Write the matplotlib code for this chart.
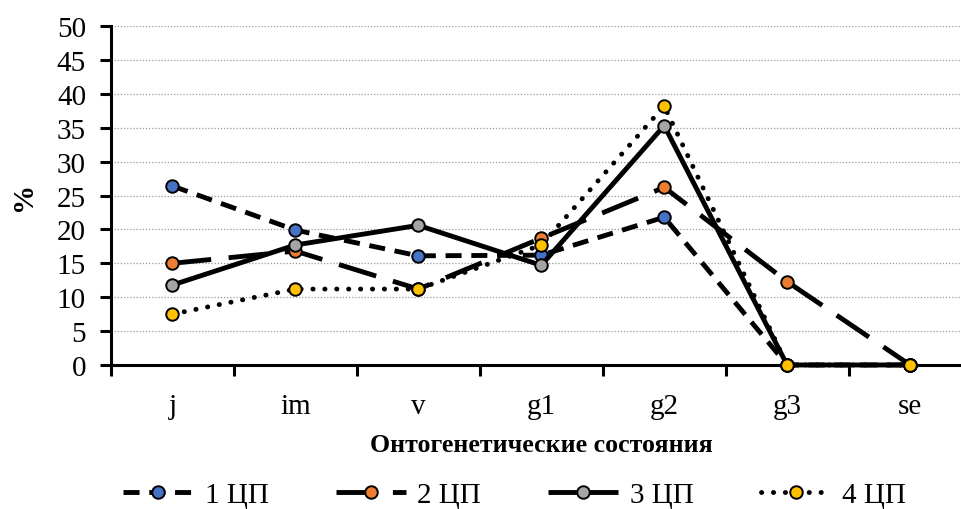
import matplotlib
matplotlib.use("Agg")
import matplotlib.pyplot as plt

plt.rcParams['font.family'] = ['Liberation Serif', 'DejaVu Serif']

categories = ["j", "im", "v", "g1", "g2", "g3", "se"]
s1 = [26.4, 19.9, 16.1, 16.2, 21.8, 0, 0]
s2 = [15.0, 16.8, 11.2, 18.7, 26.2, 12.3, 0]
s3 = [11.8, 17.7, 20.6, 14.7, 35.3, 0, 0]
s4 = [7.5, 11.2, 11.2, 17.7, 38.2, 0, 0]
labels = ["1 ЦП", "2 ЦП", "3 ЦП", "4 ЦП"]
yticks = list(range(0, 55, 5))

fig = plt.figure(figsize=(9.62, 5.10), dpi=100)
ax = fig.add_axes([0.1154, 0.2824, 0.8945, 0.6646])

x = list(range(len(categories)))
DOT = (0, (0.05, 2.4))
styles = [
    dict(series=s1, color="#4472C4", ls=(0, (3.3, 2.0))),
    dict(series=s2, color="#ED7D31", ls=(0, (8.0, 3.6))),
    dict(series=s3, color="#A5A5A5", ls="-"),
    dict(series=s4, color="#FFC000", ls=DOT),
]
for st, lab in zip(styles, labels):
    dash_cap = "round" if st["ls"] == DOT else "butt"
    ax.plot(x, st["series"], color="black", lw=3.5, linestyle=st["ls"],
            dash_capstyle=dash_cap, solid_capstyle="butt",
            marker="o", markersize=9, markerfacecolor=st["color"],
            markeredgecolor="black", markeredgewidth=1.4, label=lab,
            clip_on=False, zorder=3)

ax.set_xlim(-0.5, 6.5)
ax.set_ylim(0, 50)
ax.set_yticks(yticks)
ax.set_xticks(x)
ax.set_xticklabels(categories)
ax.set_xticks([i + 0.5 for i in range(-1, 7)], minor=True)
ax.tick_params(axis="x", which="major", length=0, labelsize=21, pad=20)
ax.tick_params(axis="x", which="minor", length=8, width=2.2, direction="out")
ax.tick_params(axis="y", length=8, width=2.2, direction="out", labelsize=21, pad=10)
ax.yaxis.grid(True, color="#9a9a9a", linestyle=(0, (1, 1.5)), linewidth=0.9)
ax.set_axisbelow(True)
for sp in ["top", "right"]:
    ax.spines[sp].set_visible(False)
ax.spines["left"].set_linewidth(2.2)
ax.spines["bottom"].set_linewidth(2.2)

ax.set_xlabel("Онтогенетические состояния", fontsize=18.6, fontweight="bold", labelpad=10)
ax.set_ylabel("%", fontsize=21, fontweight="bold", labelpad=14)

fig.legend(loc="center", bbox_to_anchor=(0.535, 0.028), ncol=4, frameon=False,
           fontsize=21, handlelength=2.4, columnspacing=2.3, handletextpad=0.4)

fig.savefig("out.png", dpi=100)
